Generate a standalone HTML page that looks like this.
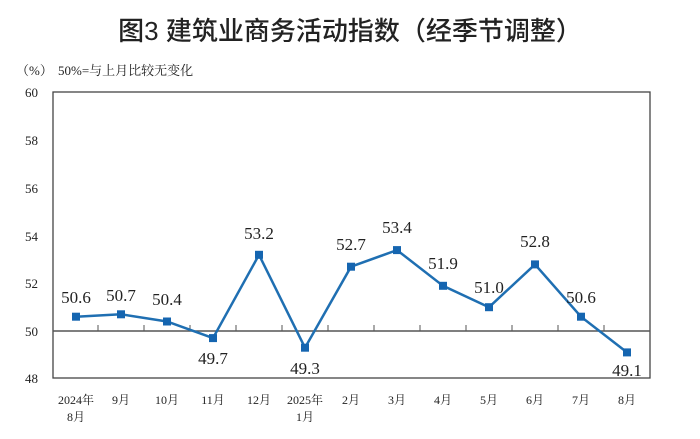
<!DOCTYPE html>
<html><head><meta charset="utf-8"><style>
body{margin:0;background:#fff;width:700px;height:434px;overflow:hidden}
svg text{font-family:"Liberation Serif","Noto Serif CJK SC",serif;fill:#222}
</style></head><body>
<svg width="700" height="434" xmlns="http://www.w3.org/2000/svg">
<text x="350" y="40" text-anchor="middle" font-size="26" font-family="Liberation Sans, Noto Sans CJK SC, sans-serif" style="font-family:'Liberation Sans','Noto Sans CJK SC',sans-serif;font-weight:500">图3  建筑业商务活动指数（经季节调整）</text>
<text x="16" y="75" font-size="13">（%）</text>
<text x="58" y="75" font-size="13">50%=与上月比较无变化</text>
<g font-size="13" text-anchor="end">
<text x="38" y="97">60</text><text x="38" y="145">58</text><text x="38" y="193">56</text>
<text x="38" y="241">54</text><text x="38" y="288">52</text><text x="38" y="336">50</text><text x="38" y="383">48</text>
</g>
<rect x="53" y="92" width="597" height="286" fill="none" stroke="#444" stroke-width="1.3"/>
<line x1="53" y1="331" x2="650" y2="331" stroke="#555" stroke-width="1.5"/>
<g stroke="#555" stroke-width="1">
<line x1="98" y1="331" x2="98" y2="325"/><line x1="144" y1="331" x2="144" y2="325"/><line x1="190" y1="331" x2="190" y2="325"/><line x1="236" y1="331" x2="236" y2="325"/><line x1="282" y1="331" x2="282" y2="325"/><line x1="328" y1="331" x2="328" y2="325"/><line x1="374" y1="331" x2="374" y2="325"/><line x1="420" y1="331" x2="420" y2="325"/><line x1="466" y1="331" x2="466" y2="325"/><line x1="512" y1="331" x2="512" y2="325"/><line x1="558" y1="331" x2="558" y2="325"/><line x1="604" y1="331" x2="604" y2="325"/>
</g>
<polyline fill="none" stroke="#1f6fb2" stroke-width="2.5" points="76,316.7 121,314.3 167,321.5 213,338.1 259,254.8 305,347.7 351,266.7 397,250.1 443,285.8 489,307.2 535,264.4 581,316.7 627,352.4"/>
<g fill="#1565b0">
<rect x="72" y="312.7" width="8" height="8"/><rect x="117" y="310.3" width="8" height="8"/><rect x="163" y="317.5" width="8" height="8"/><rect x="209" y="334.1" width="8" height="8"/><rect x="255" y="250.8" width="8" height="8"/><rect x="301" y="343.7" width="8" height="8"/><rect x="347" y="262.7" width="8" height="8"/><rect x="393" y="246.1" width="8" height="8"/><rect x="439" y="281.8" width="8" height="8"/><rect x="485" y="303.2" width="8" height="8"/><rect x="531" y="260.4" width="8" height="8"/><rect x="577" y="312.7" width="8" height="8"/><rect x="623" y="348.4" width="8" height="8"/>
</g>
<g font-size="17" text-anchor="middle">
<text x="76" y="303">50.6</text><text x="121" y="301">50.7</text><text x="167" y="305">50.4</text><text x="213" y="364">49.7</text><text x="259" y="239">53.2</text><text x="305" y="374">49.3</text><text x="351" y="250">52.7</text><text x="397" y="233">53.4</text><text x="443" y="269">51.9</text><text x="489" y="293">51.0</text><text x="535" y="247">52.8</text><text x="581" y="303">50.6</text><text x="627" y="376">49.1</text>
</g>
<g font-size="12" text-anchor="middle">
<text x="76" y="404">2024年</text><text x="76" y="421">8月</text>
<text x="121" y="404">9月</text><text x="167" y="404">10月</text><text x="213" y="404">11月</text><text x="259" y="404">12月</text>
<text x="305" y="404">2025年</text><text x="305" y="421">1月</text>
<text x="351" y="404">2月</text><text x="397" y="404">3月</text><text x="443" y="404">4月</text><text x="489" y="404">5月</text><text x="535" y="404">6月</text><text x="581" y="404">7月</text><text x="627" y="404">8月</text>
</g>
</svg>
</body></html>
